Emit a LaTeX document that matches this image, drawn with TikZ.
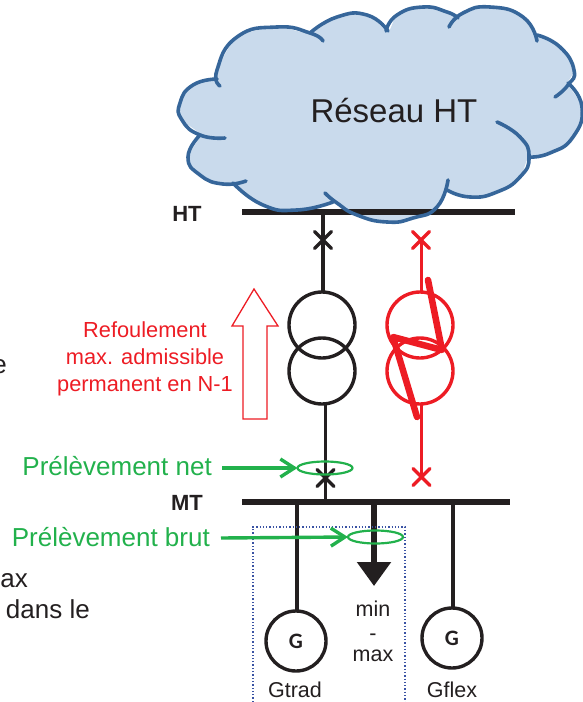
\documentclass[tikz,border=0pt]{standalone}
\usepackage{fontspec}
\setmainfont{Liberation Sans}
\newfontfamily\genfont{Carlito}
\usetikzlibrary{arrows.meta,shapes.geometric,shapes.misc}

\definecolor{ink}{HTML}{231F20}
\definecolor{redline}{HTML}{ED1C24}
\definecolor{greenline}{HTML}{22B14C}
\definecolor{cloudfill}{HTML}{C9DAEC}
\definecolor{cloudedge}{HTML}{36669A}
\definecolor{boxblue}{HTML}{3A53A4}

\def\fs#1{\fontsize{#1}{#1}\selectfont}

\tikzset{
  bar/.style={line width=6.5pt, ink},
  wire/.style={line width=3.4pt, ink},
  redwire/.style={line width=3pt, redline},
  coil/.style={circle, draw=ink, line width=3.4pt, minimum size=66pt, inner sep=0pt, outer sep=0pt},
  redcoil/.style={coil, draw=redline},
  gen/.style={circle, draw=ink, line width=3.4pt, minimum size=60pt, inner sep=0pt, outer sep=0pt, font=\genfont\bfseries\fs{22}, text=ink},
  breaker/.style={cross out, draw=ink, line width=3.2pt, line cap=round, minimum size=17pt, inner sep=0pt, outer sep=0pt},
  redbreaker/.style={breaker, draw=redline},
  loop/.style={ellipse, draw=greenline, line width=2.2pt, minimum width=55pt, minimum height=13pt, inner sep=0pt, outer sep=0pt},
  greenarrow/.style={line width=3.4pt, greenline, -{Straight Barb[length=14pt,width=18pt,line width=3.4pt]}},
  label/.style={font=\fs{21.5}, text=ink},
  cuttext/.style={font=\fs{26}, text=ink, anchor=base east, inner sep=0pt},
  greenlabel/.style={font=\fs{26}, text=greenline, anchor=base east, inner sep=0pt},
  busname/.style={font=\bfseries\fs{22}, text=ink, anchor=base},
  lobe/.style={line width=3.6pt, cloudedge, line cap=round}
}

\begin{document}
\begin{tikzpicture}[x=1pt,y=-1pt]

\def\width{583}
\def\height{702}

\path [use as bounding box] (0,0) rectangle (\width,\height);

% CLOUD
\fill [cloudfill] plot [smooth cycle, tension=0.4] coordinates {(217,70) (237,37) (277,27) (310,33) (337,17) (367,15) (388,31) (397,15) (423,7) (447,12) (458,18) (463,13) (490,7) (523,17) (537,35) (560,47) (574,70) (568,84) (582,107) (573,137) (550,153) (529,157) (520,177) (497,192) (470,197) (447,190) (437,207) (413,218) (387,222) (357,215) (333,202) (297,210) (263,205) (233,183) (223,184) (200,175) (188,157) (200,135) (182,120) (180,103) (193,85) (217,79)};

% BARS
\coordinate (htl) at (242,212);
\coordinate (htr) at (515,212);
\coordinate (mtl) at (242,502);
\coordinate (mtr) at (510,502);
\draw [bar] (htl) -- (htr);
\draw [bar] (mtl) -- (mtr);

\draw [lobe] plot [smooth, tension=0.9] coordinates {(220,86) (217,70) (237,37) (277,27) (310,33) (323,41)};
\draw [lobe] plot [smooth, tension=0.9] coordinates {(310,33) (337,17) (367,15) (388,31)};
\draw [lobe] plot [smooth, tension=0.9] coordinates {(386,31) (397,15) (423,7) (447,12) (458,18)};
\draw [lobe] plot [smooth, tension=0.9] coordinates {(449,27) (463,13) (490,7) (523,17) (537,41)};
\draw [lobe] plot [smooth, tension=0.9] coordinates {(537,35) (560,47) (574,70) (568,85) (555,97)};
\draw [lobe] plot [smooth, tension=0.9] coordinates {(568,83) (582,107) (573,137) (550,153) (529,157)};
\draw [lobe] plot [smooth, tension=0.9] coordinates {(497,122) (520,137) (529,157) (520,177) (497,192) (470,197) (447,190)};
\draw [lobe] plot [smooth, tension=0.9] coordinates {(448,180) (437,207) (413,218) (387,222) (357,215) (337,203) (325,193)};
\draw [lobe] plot [smooth, tension=0.9] coordinates {(333,202) (297,210) (263,205) (233,183)};
\draw [lobe] plot [smooth, tension=0.9] coordinates {(246,181) (223,184) (200,175) (188,157) (200,135)};
\draw [lobe] plot [smooth, tension=0.9] coordinates {(225,138) (200,135) (182,120) (180,103) (193,85) (217,79)};

\node [font=\fs{33}, text=ink, anchor=base] (reseau) at (394,122) {Réseau HT};
\node [busname] (htname) at (187,221) {HT};
\node [busname] (mtname) at (187,510) {MT};

% TRANSFORMERS
\node [coil] (blackup) at (322,325) {};
\node [coil] (blacklow) at (322,371) {};
\node [redcoil] (redup) at (420,325) {};
\node [redcoil] (redlow) at (420,371) {};

\node [breaker] (blacktop) at (323,240) {};
\node [breaker] (blackbot) at (325.5,478) {};
\node [redbreaker] (redtop) at (421,240) {};
\node [redbreaker] (redbot) at (421.5,477) {};

\coordinate (hta) at (323,212);
\coordinate (mta) at (325.5,502);
\draw [wire] (hta) -- (hta |- blackup.north);
\draw [wire] (mta) -- (mta |- blacklow.south);
\draw [redwire] (redtop.center) -- (redtop.center |- redup.north);
\draw [redwire] (redbot.center) -- (redbot.center |- redlow.south);

% TRIPPED
\draw [line width=6.5pt, redline, line cap=round, line join=round] (428,280) -- (442,350) -- (393,337) -- (417,417);

% LIMIT
\draw [line width=1.3pt, redline, line join=miter] (254,289) -- (278,326) -- (267,326) -- (267,419) -- (243,419) -- (243,326) -- (232,326) -- cycle;
\node [font=\fontsize{21.8}{27}\selectfont, text=redline, align=center] (limit) at (145,359) {Refoulement\\max. admissible\\permanent en N-1};

% FEEDERS
\node [gen] (gtrad) at (296,641) {G};
\node [gen] (gflex) at (452,638) {G};
\node [label, anchor=base] (gtradname) at (295,697) {Gtrad};
\node [label, anchor=base] (gflexname) at (452,697) {Gflex};
\node [label, anchor=base] (min) at (373,616) {min};
\node [label, anchor=base] (dash) at (373,640) {-};
\node [label, anchor=base] (max) at (373,661) {max};

\coordinate (mtb) at (297,502);
\coordinate (mtc) at (374,502);
\coordinate (mtd) at (453,502);
\coordinate (load) at (374,586);
\draw [wire] (mtb) -- (mtb |- gtrad.north);
\draw [wire] (mtd) -- (mtd |- gflex.north);
\draw [line width=5.5pt, ink, -{Triangle[length=24pt,width=33pt]}] (mtc) -- (load);

% PERIMETER
\draw [boxblue, line width=1.3pt, dotted] (253,702) -- (253,527) -- (405,527) -- (405,702);

% MEASURES
\node [loop] (netloop) at (325,468) {};
\node [loop] (brutloop) at (375.5,537) {};
\node [greenlabel] (netname) at (212,475.5) {Prélèvement net};
\node [greenlabel] (brutname) at (210,546) {Prélèvement brut};
\coordinate (netstart) at (222,468);
\coordinate (brutstart) at (221,538);
\draw [greenarrow] (netstart) -- (netloop.west);
\draw [greenarrow] (brutstart) -- (brutloop.west);

% CUT TEXT
\node [cuttext] (cuta) at (7,373) {e};
\node [cuttext] (cutb) at (28,587) {ax};
\node [cuttext] (cutc) at (90,618) {dans le};

\end{tikzpicture}
\end{document}
